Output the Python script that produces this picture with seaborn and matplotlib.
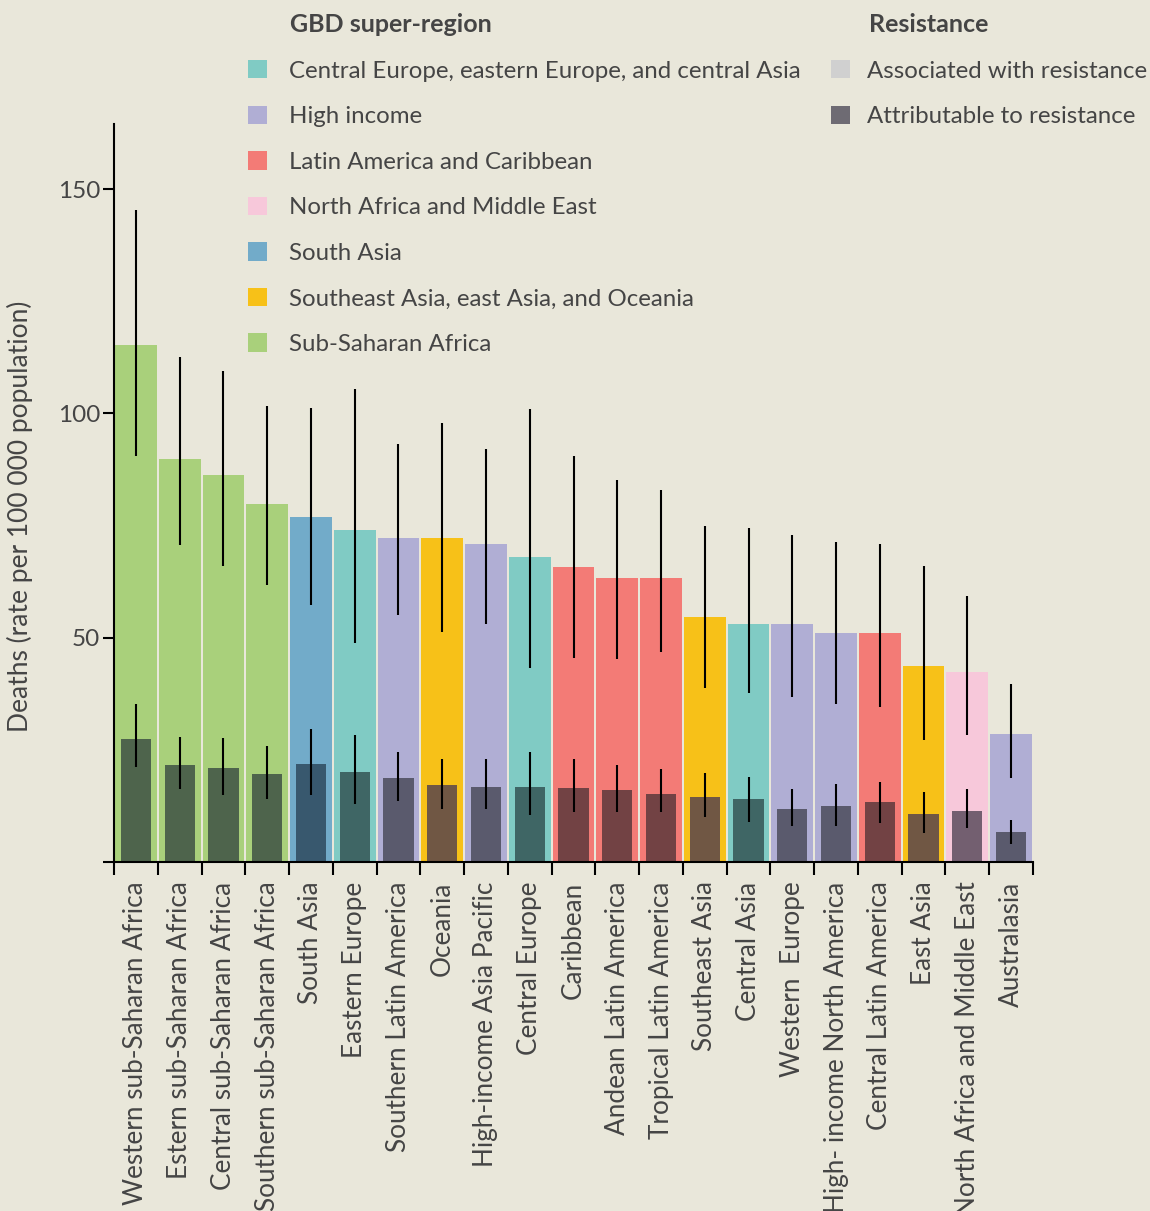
import numpy as np
import pandas as pd
import matplotlib
matplotlib.use('Agg')
import matplotlib.pyplot as plt
import seaborn as sns
from matplotlib.patches import Patch

# data
regions = ['Western sub-Saharan Africa', 'Estern sub-Saharan Africa', 'Central sub-Saharan Africa',
           'Southern sub-Saharan Africa', 'South Asia', 'Eastern Europe', 'Southern Latin America',
           'Oceania', 'High-income Asia Pacific', 'Central Europe', 'Caribbean', 'Andean Latin America',
           'Tropical Latin America', 'Southeast Asia', 'Central Asia', 'Western  Europe',
           'High- income North America', 'Central Latin America', 'East Asia',
           'North Africa and Middle East', 'Australasia']

super_regions = ['SSA', 'SSA', 'SSA', 'SSA', 'SA', 'CEECA', 'HI', 'SEAO', 'HI', 'CEECA', 'LAC', 'LAC',
                 'LAC', 'SEAO', 'CEECA', 'HI', 'HI', 'LAC', 'SEAO', 'NAME', 'HI']

assoc = [115.2, 89.8, 86.2, 79.8, 76.9, 74.0, 72.2, 72.2, 70.9, 68.0, 65.7, 63.3, 63.3, 54.6, 53.0,
         53.0, 51.0, 51.0, 43.7, 42.3, 28.5]
assoc_lo = [90.5, 70.6, 66.0, 61.7, 57.3, 48.8, 55.0, 51.3, 53.0, 43.2, 45.5, 45.2, 46.8, 38.8, 37.7,
            36.8, 35.2, 34.5, 27.2, 28.3, 18.7]
assoc_hi = [145.3, 112.5, 109.4, 101.6, 101.2, 105.4, 93.2, 97.8, 92.0, 101.0, 90.5, 85.1, 82.9, 74.9,
            74.4, 72.9, 71.3, 70.9, 66.0, 59.3, 39.7]

attr = [27.4, 21.6, 20.9, 19.6, 21.8, 20.1, 18.7, 17.2, 16.7, 16.7, 16.5, 16.0, 15.2, 14.5, 14.0,
        11.8, 12.5, 13.4, 10.7, 11.4, 6.7]
attr_lo = [21.2, 16.3, 14.9, 14.0, 14.9, 12.9, 13.6, 11.8, 11.8, 10.5, 11.1, 11.1, 11.1, 10.0, 8.9,
           8.0, 8.0, 8.7, 6.5, 7.6, 4.0]
attr_hi = [35.2, 27.9, 27.6, 25.9, 29.6, 28.3, 24.5, 23.0, 23.0, 24.5, 23.0, 21.6, 20.7, 19.8, 18.9,
           16.3, 17.4, 17.8, 15.6, 16.3, 9.4]

super_names = {
    'CEECA': 'Central Europe, eastern Europe, and central Asia',
    'HI': 'High income',
    'LAC': 'Latin America and Caribbean',
    'NAME': 'North Africa and Middle East',
    'SA': 'South Asia',
    'SEAO': 'Southeast Asia, east Asia, and Oceania',
    'SSA': 'Sub-Saharan Africa',
}
light = {'CEECA': '#80cbc4', 'HI': '#b0aed4', 'LAC': '#f37b76', 'NAME': '#f7c8da',
         'SA': '#72abc9', 'SEAO': '#f7c118', 'SSA': '#a9d07b'}
dark = {'CEECA': '#3f6665', 'HI': '#5a5a6d', 'LAC': '#724244', 'NAME': '#735f70',
        'SA': '#38586e', 'SEAO': '#705744', 'SSA': '#4e644c'}

bg = '#e9e7da'
txt = '#454545'

sns.set_theme(style='ticks')
plt.rcParams['font.family'] = ['Lato', 'DejaVu Sans']
plt.rcParams['text.color'] = txt

df = pd.DataFrame({'region': regions, 'super': super_regions, 'assoc': assoc, 'attr': attr})

fig = plt.figure(figsize=(11.5, 12.11), dpi=100, facecolor=bg)
ax = fig.add_axes([114 / 1150, 1 - 862 / 1211, 919 / 1150, 738 / 1211])
ax.set_facecolor(bg)

sns.barplot(data=df, x='region', y='assoc', hue='super', palette=light, order=regions,
            dodge=False, width=0.955, saturation=1, errorbar=None, legend=False, ax=ax,
            linewidth=0, edgecolor='none')
sns.barplot(data=df, x='region', y='attr', hue='super', palette=dark, order=regions,
            dodge=False, width=0.69, saturation=1, errorbar=None, legend=False, ax=ax,
            linewidth=0, edgecolor='none')

xs = np.arange(len(regions))
ax.vlines(xs, assoc_lo, assoc_hi, color='black', lw=1.5, zorder=5)
ax.vlines(xs, attr_lo, attr_hi, color='black', lw=1.5, zorder=5)

ax.set_xlim(-0.5, len(regions) - 0.5)
ax.set_ylim(0, 164.5)

# ticks at the bar edges, labels at the centres
ax.set_xticks(np.arange(len(regions) + 1) - 0.5)
ax.set_xticklabels([])
ax.set_xticks(xs, minor=True)
ax.set_xticklabels(regions, minor=True, rotation=90, fontsize=18.8, color=txt)
ax.tick_params(axis='x', which='major', length=9, width=1.5, color='black', direction='out')
ax.tick_params(axis='x', which='minor', length=0, pad=14)

ax.set_yticks([0, 50, 100, 150])
ax.set_yticklabels(['', '50', '100', '150'], fontsize=17.5, color=txt)
ax.tick_params(axis='y', length=8, width=1.5, color='black', pad=2)

ax.set_xlabel('')
ax.set_ylabel('Deaths (rate per 100 000 population)', fontsize=19, color=txt)
ax.yaxis.set_label_coords(-0.088, 0.469)

sns.despine(ax=ax)
for s in ['left', 'bottom']:
    ax.spines[s].set_linewidth(1.5)
    ax.spines[s].set_color('black')

# legends
leg_kw = dict(loc='upper left', frameon=False, fontsize=17.3, handlelength=0.8, handleheight=0.8,
              labelspacing=1.0, borderpad=0, borderaxespad=0)
h1 = [Patch(facecolor=light[k], edgecolor='none') for k in super_names]
leg1 = fig.legend(h1, list(super_names.values()), bbox_to_anchor=(248 / 1150, 1 - 60 / 1211),
                  handletextpad=0.92, **leg_kw)
h2 = [Patch(facecolor='#d0d0d0', edgecolor='none'), Patch(facecolor='#6e6b73', edgecolor='none')]
leg2 = fig.legend(h2, ['Associated with resistance', 'Attributable to resistance'],
                  bbox_to_anchor=(831 / 1150, 1 - 60 / 1211), handletextpad=0.7, **leg_kw)
for leg in [leg1, leg2]:
    for t in leg.get_texts():
        t.set_color(txt)
fig.text(290 / 1150, 1 - 25 / 1211, 'GBD super-region', fontsize=18, fontweight='bold',
         color=txt, va='center', ha='left')
fig.text(869 / 1150, 1 - 25 / 1211, 'Resistance', fontsize=18, fontweight='bold',
         color=txt, va='center', ha='left')

fig.savefig('out.png', dpi=100, facecolor=bg)
